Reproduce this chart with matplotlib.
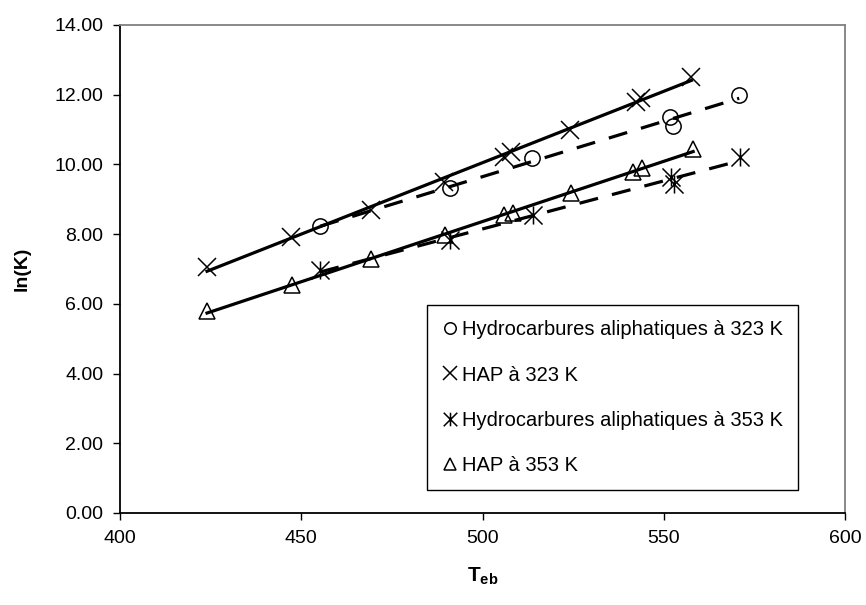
import numpy as np
import matplotlib
matplotlib.use('Agg')
import matplotlib.pyplot as plt
from matplotlib.path import Path

plt.rcParams['font.family'] = ['Liberation Sans', 'DejaVu Sans']
plt.rcParams['mathtext.fontset'] = 'custom'
plt.rcParams['mathtext.bf'] = 'Liberation Sans:bold'
plt.rcParams['mathtext.rm'] = 'Liberation Sans'

# Hydrocarbures aliphatiques a 323 K (cercles)
ha323_x = [455.2, 491.0, 513.7, 551.7, 552.6, 570.8]
ha323_y = [8.23, 9.32, 10.18, 11.36, 11.10, 11.99]

# HAP a 323 K (croix)
hap323_x = [424.0, 447.3, 469.1, 489.5, 505.8, 507.8, 524.0, 542.3, 543.8, 557.6]
hap323_y = [7.06, 7.93, 8.69, 9.50, 10.21, 10.36, 10.99, 11.80, 11.90, 12.51]

# Hydrocarbures aliphatiques a 353 K (etoiles)
ha353_x = [455.2, 491.0, 513.9, 552.0, 552.8, 571.0]
ha353_y = [6.97, 7.83, 8.55, 9.64, 9.44, 10.21]

# HAP a 353 K (triangles)
hap353_x = [424.0, 447.4, 469.2, 489.7, 505.9, 508.4, 524.4, 541.5, 544.0, 558.1]
hap353_y = [5.79, 6.54, 7.29, 7.97, 8.55, 8.61, 9.18, 9.78, 9.90, 10.44]

labels = ['Hydrocarbures aliphatiques à 323 K', 'HAP à 323 K',
          'Hydrocarbures aliphatiques à 353 K', 'HAP à 353 K']

# asterisque facon Excel : une croix + un trait vertical
star = Path([(-1, -1), (1, 1), (-1, 1), (1, -1), (0, -1), (0, 1)],
            [Path.MOVETO, Path.LINETO, Path.MOVETO, Path.LINETO, Path.MOVETO, Path.LINETO])

fig = plt.figure(figsize=(8.66, 6.05), dpi=100)
ax = fig.add_axes([0.1386, 0.1521, 0.8372, 0.8066])

series = [
    (ha323_x, ha323_y, 'o', 11, 'dashed'),
    (hap323_x, hap323_y, 'x', 13, 'solid'),
    (ha353_x, ha353_y, star, 13, 'dashed'),
    (hap353_x, hap353_y, '^', 12, 'solid'),
]

for (xs, ys, mk, ms, ls), lab in zip(series, labels):
    ax.plot(xs, ys, linestyle='none', marker=mk, markersize=ms, markerfacecolor='none',
            markeredgecolor='black', markeredgewidth=1.1, label=lab, zorder=3)
    # courbe de tendance lineaire
    a, b = np.polyfit(xs, ys, 1)
    xl = np.array([min(xs), max(xs)])
    if ls == 'solid':
        ax.plot(xl, a * xl + b, color='black', linewidth=2.3, zorder=4)
    else:
        ax.plot(xl, a * xl + b, color='black', linewidth=2.3, dashes=(6, 4.5), zorder=4)

ax.set_xlim(400, 600)
ax.set_ylim(0, 14)
ax.set_xticks(np.arange(400, 601, 50))
ax.set_yticks(np.arange(0, 15, 2))
ax.set_yticklabels(['%.2f' % v for v in np.arange(0, 15, 2)])
ax.tick_params(direction='out', length=5, width=1, labelsize=14, colors='black', pad=7)

ax.spines['left'].set_color('black')
ax.spines['bottom'].set_color('black')
ax.spines['top'].set_color('#808080')
ax.spines['right'].set_color('#808080')
for s in ax.spines.values():
    s.set_linewidth(1.3)

ax.set_ylabel('ln(K)', fontsize=14, fontweight='bold', labelpad=17)
ax.set_xlabel(r'$\mathbf{T_{eb}}$', fontsize=15, labelpad=14)

leg = ax.legend(loc='lower left', bbox_to_anchor=(0.4234, 0.0471), fontsize=14.5,
                frameon=True, fancybox=False, edgecolor='black', framealpha=1,
                handlelength=0.8, handletextpad=0.2, labelspacing=1.3,
                borderpad=0.75, markerscale=0.75, borderaxespad=0)
leg.get_frame().set_linewidth(1.0)

plt.savefig('out.png', dpi=100)
